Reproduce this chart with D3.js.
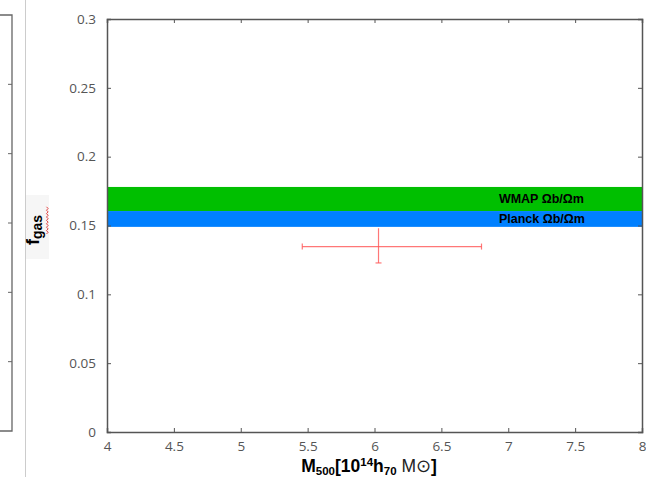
<!DOCTYPE html>
<html><head><meta charset="utf-8">
<script src="https://cdn.jsdelivr.net/npm/d3@7"></script>
<style>body{margin:0;background:#fff;}svg{display:block;}</style>
</head><body>
<script>
const xTicks = [4, 4.5, 5, 5.5, 6, 6.5, 7, 7.5, 8];
const yTicks = [0, 0.05, 0.1, 0.15, 0.2, 0.25, 0.3];
const yTickLabels = ["0", "0.05", "0.1", "0.15", "0.2", "0.25", "0.3"];
const bandNames = ["WMAP Ωb/Ωm", "Planck Ωb/Ωm"];
const bandLow = [0.1605, 0.149];
const bandHigh = [0.178, 0.1605];
const bandColors = ["#00bf00", "#0080ff"];
const mass = [6.03], massLo = [5.46], massHi = [6.8];
const fgas = [0.1347], fgasLo = [0.1228], fgasHi = [0.148];

(function () {
const W = 646, H = 478;
const m = {l: 107, r: 642, t: 19, b: 432};
const svg = d3.select("body").append("svg").attr("width", W).attr("height", H);
const x = d3.scaleLinear().domain([4, 8]).range([m.l, m.r]);
const y = d3.scaleLinear().domain([0, 0.3]).range([m.b, m.t]);

// left partial panel
const lp = svg.append("g");
lp.append("path").attr("d", `M-5,15H12V431H-5`).attr("fill", "none").attr("stroke", "#666").attr("stroke-width", 1.3);
const leftTickY = d3.scaleLinear().domain([0, 0.3]).range([431, 15]);
[0.05, 0.1, 0.15, 0.2, 0.25].forEach(v => {
  lp.append("line").attr("x1", 8).attr("x2", 12).attr("y1", leftTickY(v)).attr("y2", leftTickY(v)).attr("stroke", "#666");
});
svg.append("line").attr("x1", 25.5).attr("x2", 25.5).attr("y1", 0).attr("y2", 477).attr("stroke", "#ccc").attr("stroke-width", 1);

// bands
bandNames.forEach((n, i) => {
  svg.append("rect").attr("x", x(4)).attr("width", x(8) - x(4))
    .attr("y", y(bandHigh[i])).attr("height", y(bandLow[i]) - y(bandHigh[i]))
    .attr("fill", bandColors[i]);
  svg.append("text").attr("x", x(6.93)).attr("y", (y(bandHigh[i]) + y(bandLow[i])) / 2 + 4.5)
    .attr("font-family", "Liberation Sans, Arial, sans-serif").attr("font-weight", "bold")
    .attr("font-size", 12.5).attr("fill", "#000").text(n);
});

// error bar
const red = "#ff5555";
const eg = svg.append("g").attr("stroke", red).attr("stroke-opacity", 0.8).attr("stroke-width", 1.2);
mass.forEach((mv, i) => {
  const cy = y(fgas[i]), cx = x(mv);
  eg.append("line").attr("x1", x(massLo[i])).attr("x2", x(massHi[i])).attr("y1", cy).attr("y2", cy);
  eg.append("line").attr("x1", x(massLo[i])).attr("x2", x(massLo[i])).attr("y1", cy - 3).attr("y2", cy + 3);
  eg.append("line").attr("x1", x(massHi[i])).attr("x2", x(massHi[i])).attr("y1", cy - 3).attr("y2", cy + 3);
  eg.append("line").attr("x1", cx).attr("x2", cx).attr("y1", y(fgasHi[i])).attr("y2", y(fgasLo[i]));
  eg.append("line").attr("x1", cx - 3).attr("x2", cx + 3).attr("y1", y(fgasLo[i])).attr("y2", y(fgasLo[i]));
});

// axes
const axColor = "#555";
const font = "Open Sans, DejaVu Sans, sans-serif";
const gBottom = svg.append("g").attr("transform", `translate(0,${m.b})`)
  .call(d3.axisBottom(x).tickValues(xTicks).tickSize(-4).tickPadding(9).tickFormat(d3.format("")));
const gLeft = svg.append("g").attr("transform", `translate(${m.l},0)`)
  .call(d3.axisLeft(y).tickValues(yTicks).tickSize(-4).tickPadding(11).tickFormat((d, i) => yTickLabels[i]));
const gTop = svg.append("g").attr("transform", `translate(0,${m.t})`)
  .call(d3.axisTop(x).tickValues(xTicks).tickSize(-4).tickFormat(""));
const gRight = svg.append("g").attr("transform", `translate(${m.r},0)`)
  .call(d3.axisRight(y).tickValues(yTicks).tickSize(-4).tickFormat(""));
[gBottom, gLeft, gTop, gRight].forEach(g => {
  g.select(".domain").attr("stroke", axColor).attr("stroke-width", 1.5);
  g.selectAll(".tick line").attr("stroke", axColor);
  g.selectAll("text").attr("fill", "#555").attr("font-family", font).attr("font-size", 13.5);
});

// x label
const xl = svg.append("text").attr("x", 369).attr("y", 472).attr("text-anchor", "middle")
  .attr("font-family", "Liberation Sans, Arial, sans-serif").attr("font-size", 17.5).attr("fill", "#000");
xl.append("tspan").attr("font-weight", "bold").text("M");
xl.append("tspan").attr("font-weight", "bold").attr("font-size", 11.5).attr("dy", 3).text("500");
xl.append("tspan").attr("font-weight", "bold").attr("dy", -3).text("[10");
xl.append("tspan").attr("font-weight", "bold").attr("font-size", 11.5).attr("dy", -6).text("14");
xl.append("tspan").attr("font-weight", "bold").attr("dy", 6).text("h");
xl.append("tspan").attr("font-weight", "bold").attr("font-size", 11.5).attr("dy", 3).text("70");
xl.append("tspan").attr("dy", -3).attr("fill", "#222").text(" M⊙");
xl.append("tspan").attr("font-weight", "bold").text("]");

// y label box
svg.append("rect").attr("x", 26).attr("y", 195).attr("width", 23).attr("height", 64).attr("fill", "#f6f6f6");
const yl = svg.append("g").attr("transform", "translate(39,245) rotate(-90)");
const ylt = yl.append("text").attr("font-family", "Liberation Sans, Arial, sans-serif").attr("font-size", 18).attr("fill", "#000").attr("font-weight", "bold");
ylt.append("tspan").text("f");
ylt.append("tspan").attr("font-size", 14).attr("dy", 3).text("gas");
yl.append("path").attr("d", "M11,7.5" + d3.range(16).map(i => `l1.7,${i % 2 ? -1.6 : 1.6}`).join(""))
  .attr("fill", "none").attr("stroke", "#e03030").attr("stroke-width", 0.9);
})();
</script>
</body></html>
